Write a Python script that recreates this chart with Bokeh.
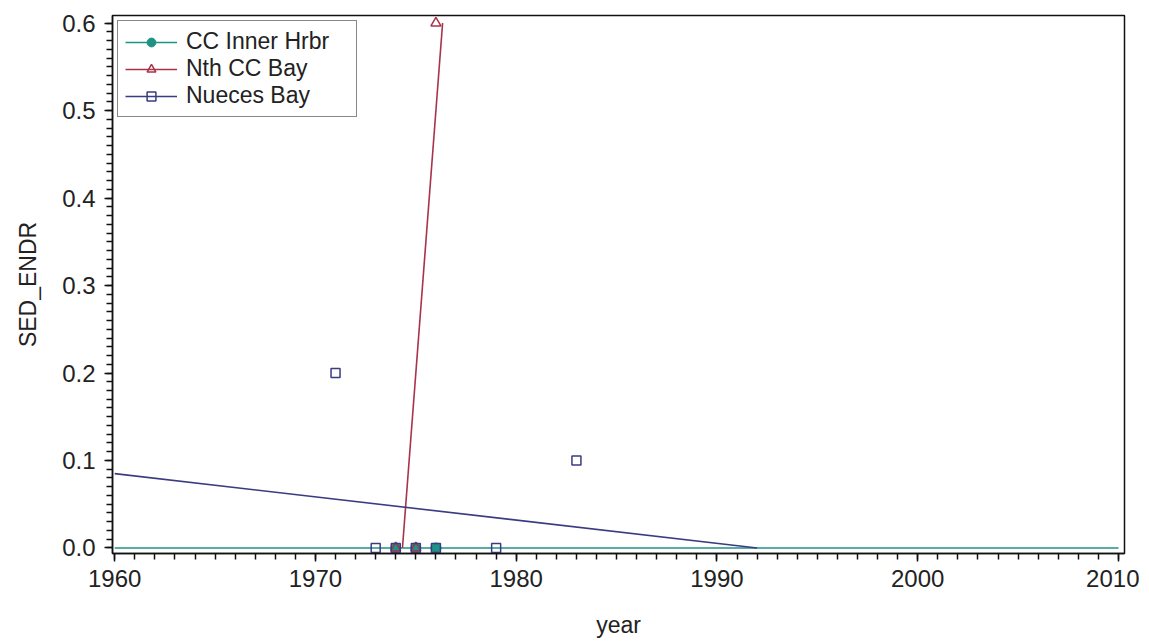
import numpy as np
from bokeh.plotting import figure
from bokeh.models import (Range1d, SingleIntervalTicker, PrintfTickFormatter,
                          Legend, LegendItem)
from bokeh.embed import file_html
from bokeh.resources import INLINE

# ---- data ----
series_names = ["CC Inner Hrbr", "Nth CC Bay", "Nueces Bay"]
cc_years = [1974, 1975, 1976]
cc_vals = [0.0, 0.0, 0.0]
nth_years = [1974, 1975, 1976]
nth_vals = [0.0, 0.0, 0.6]
nue_years = [1971, 1973, 1974, 1975, 1976, 1979, 1983]
nue_vals = [0.2, 0.0, 0.0, 0.0, 0.0, 0.0, 0.1]
x_tick_step = 10
y_tick_step = 0.1
x_axis_min, x_axis_max = 1960, 2010

colors = {"CC Inner Hrbr": "#1E9284", "Nth CC Bay": "#A8344C", "Nueces Bay": "#3B3B82"}
FONT = "Liberation Sans"

all_vals = cc_vals + nth_vals + nue_vals
y_lo, y_hi = min(all_vals), max(all_vals)


def fit_segment(xs, ys):
    slope, intercept = np.polyfit(np.array(xs, float), np.array(ys, float), 1)
    if abs(slope) < 1e-12:
        return [x_axis_min, x_axis_max], [intercept, intercept]
    xa = (y_lo - intercept) / slope
    xb = (y_hi - intercept) / slope
    x0 = max(x_axis_min, min(xa, xb))
    x1 = min(x_axis_max, max(xa, xb))
    return [x0, x1], [slope * x0 + intercept, slope * x1 + intercept]


p = figure(width=1139, height=641, output_backend="svg", toolbar_location=None,
           x_range=Range1d(1959.89, 2010.3), y_range=Range1d(-0.0063, 0.6086),
           min_border_left=112, min_border_right=15, min_border_top=15,
           min_border_bottom=88)
p.background_fill_color = "white"
p.border_fill_color = "white"
p.outline_line_color = "#111111"
p.outline_line_width = 1.5
p.xgrid.visible = False
p.ygrid.visible = False

# regression lines
lines = {}
for name, xs, ys in [("CC Inner Hrbr", cc_years, cc_vals),
                     ("Nth CC Bay", nth_years, nth_vals),
                     ("Nueces Bay", nue_years, nue_vals)]:
    fx, fy = fit_segment(xs, ys)
    lines[name] = p.line(fx, fy, line_color=colors[name], line_width=1.6)

# markers
r_cc = p.scatter(cc_years, cc_vals, marker="circle", size=10,
                 fill_color=colors["CC Inner Hrbr"], line_color=colors["CC Inner Hrbr"])
r_nth = p.scatter(nth_years, nth_vals, marker="triangle", size=10,
                  fill_color=None, line_color=colors["Nth CC Bay"], line_width=1.5)
r_nue = p.scatter(nue_years, nue_vals, marker="square", size=9,
                  fill_color=None, line_color=colors["Nueces Bay"], line_width=1.5)

# axes
for ax in (p.xaxis[0], p.yaxis[0]):
    ax.axis_line_color = "#111111"
    ax.axis_line_width = 1.5
    ax.major_tick_line_color = "#111111"
    ax.minor_tick_line_color = "#111111"
    ax.major_tick_line_width = 1.5
    ax.minor_tick_line_width = 1.5
    ax.major_tick_out = 8
    ax.major_tick_in = 0
    ax.minor_tick_out = 6
    ax.minor_tick_in = 0
    ax.major_label_text_font = FONT
    ax.major_label_text_font_size = "24px"
    ax.major_label_text_color = "#222222"
    ax.axis_label_text_font = FONT
    ax.axis_label_text_font_size = "23px"
    ax.axis_label_text_font_style = "normal"
    ax.axis_label_text_color = "#222222"

p.xaxis.ticker = SingleIntervalTicker(interval=x_tick_step, num_minor_ticks=10)
p.yaxis.ticker = SingleIntervalTicker(interval=y_tick_step, num_minor_ticks=10)
p.yaxis.formatter = PrintfTickFormatter(format="%.1f")
p.xaxis.axis_label = "year"
p.yaxis.axis_label = "SED_ENDR"
p.xaxis.major_label_standoff = 8
p.yaxis.major_label_standoff = 9
p.xaxis.axis_label_standoff = 22
p.yaxis.axis_label_standoff = 18

legend = Legend(items=[
    LegendItem(label=series_names[0], renderers=[lines["CC Inner Hrbr"], r_cc]),
    LegendItem(label=series_names[1], renderers=[lines["Nth CC Bay"], r_nth]),
    LegendItem(label=series_names[2], renderers=[lines["Nueces Bay"], r_nue]),
], location="top_left")
legend.margin = 5
legend.padding = 7
legend.spacing = 0
legend.glyph_width = 52
legend.glyph_height = 22
legend.label_height = 22
legend.label_width = 163
legend.label_standoff = 9
legend.label_text_font = FONT
legend.label_text_font_size = "23px"
legend.label_text_color = "#222222"
legend.border_line_color = "#111111"
legend.border_line_width = 1.5
legend.background_fill_alpha = 1.0
p.add_layout(legend)

open("out.html", "w").write(file_html(p, INLINE))
